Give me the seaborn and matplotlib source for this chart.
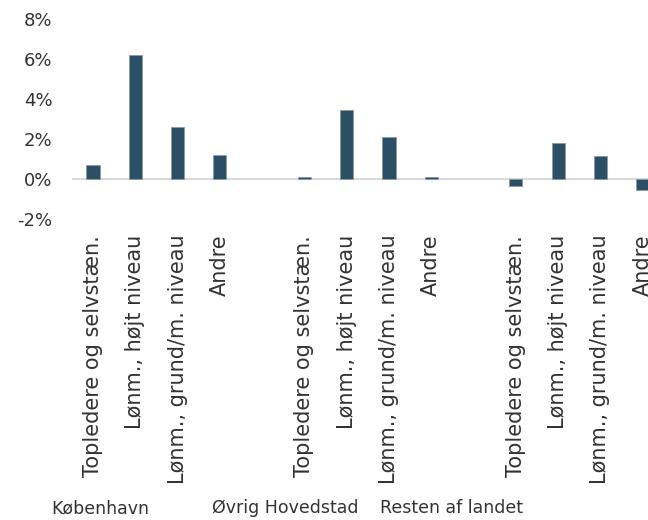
import matplotlib
matplotlib.use("Agg")
import matplotlib.pyplot as plt
import seaborn as sns
import pandas as pd
from matplotlib.ticker import FuncFormatter

groups = ["København", "Øvrig Hovedstad", "Resten af landet"]
categories = ["Topledere og selvstæn.", "Lønm., højt niveau",
              "Lønm., grund/m. niveau", "Andre"]
values = {
    "København": [0.7, 6.2, 2.6, 1.2],
    "Øvrig Hovedstad": [0.1, 3.45, 2.1, 0.1],
    "Resten af landet": [-0.35, 1.8, 1.15, -0.55],
}

rows = []
for g, grp in enumerate(groups):
    for i, cat in enumerate(categories):
        rows.append({"pos": g * 5 + i, "cat": cat, "group": grp,
                     "value": values[grp][i]})
df = pd.DataFrame(rows)

sns.set_style("white")
plt.rcParams["axes.unicode_minus"] = False
plt.rcParams["font.family"] = ["DejaVu Sans"]
text_color = "#333333"
bar_color = "#2B5066"

fig = plt.figure(figsize=(6.48, 5.2), dpi=100)
ax = fig.add_axes([71.85 / 648, 1 - 219.5 / 520, 592 / 648, 201 / 520])

sns.barplot(data=df, x="pos", y="value", native_scale=True, width=0.31,
            color=bar_color, edgecolor="#8a9aa6", linewidth=0.6,
            saturation=1, ax=ax, zorder=3)

ax.set_xlim(-0.5, 13.5)
ax.set_ylim(-2, 8)
ax.set_yticks([-2, 0, 2, 4, 6, 8])
ax.yaxis.set_major_formatter(FuncFormatter(lambda v, p: f"{v:.0f}%"))
ax.set_xticks(df["pos"])
ax.set_xticklabels(df["cat"], rotation=90)
ax.tick_params(axis="x", length=0, pad=11, labelsize=15, colors=text_color)
ax.tick_params(axis="y", length=0, pad=14, labelsize=13, colors=text_color)
ax.set_xlabel("")
ax.set_ylabel("")
for s in ax.spines.values():
    s.set_visible(False)
ax.axhline(0, color="#d9d9d9", linewidth=1.5, zorder=2)

for grp, xf in zip(groups, [100, 285, 452]):
    fig.text(xf / 648, 1 - 508 / 520, grp, ha="center", va="center",
             fontsize=12.5, color=text_color)

fig.savefig("out.png", dpi=100)
